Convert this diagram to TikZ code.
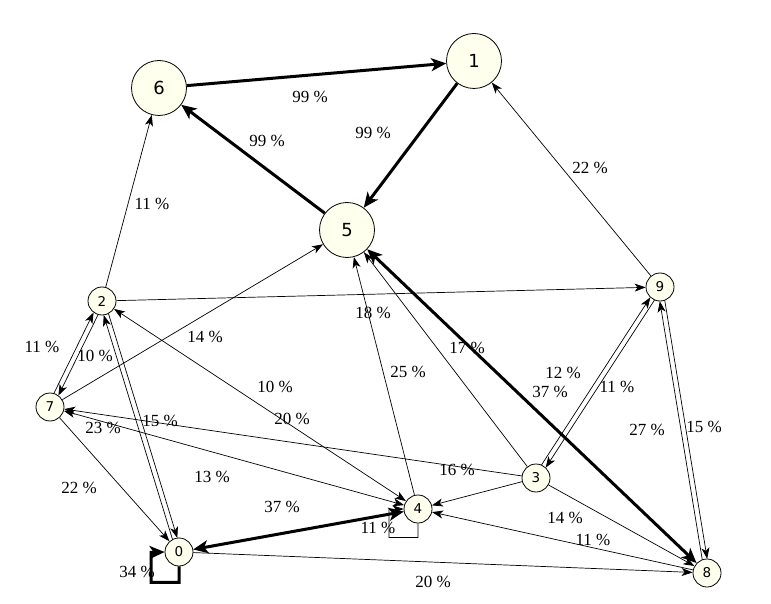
\documentclass[tikz,border=0pt]{standalone}
\usepackage{fontspec}
\setmainfont{Liberation Serif}
\newfontfamily\nodefont{DejaVu Sans}
\usetikzlibrary{arrows.meta,calc}
\definecolor{nodefill}{RGB}{255,255,238}
\newcommand\pairedge[2]{\draw[ln] ($(#1)!14pt!(#2)!2.5pt!90:(#2)$) -- ($(#2)!14pt!(#1)!2.5pt!-90:(#1)$);}
\begin{document}
\begin{tikzpicture}[x=1pt,y=-1pt,
  vnode/.style={circle,draw=black,line width=0.8pt,fill=nodefill,inner sep=0pt,minimum size=28pt,font=\nodefont\fontsize{13.5}{14}\selectfont},
  bignode/.style={vnode,minimum size=55pt,font=\nodefont\fontsize{18}{20}\selectfont},
  ln/.style={line width=0.7pt,-{Stealth[length=11pt,width=8pt,inset=3pt]}},
  lnb/.style={line width=0.7pt,{Stealth[length=11pt,width=8pt,inset=3pt]}-{Stealth[length=11pt,width=8pt,inset=3pt]}},
  hv/.style={line width=3pt,-{Stealth[length=15pt,width=13pt,inset=4pt]}},
  hvb/.style={line width=3pt,{Stealth[length=15pt,width=13pt,inset=4pt]}-{Stealth[length=15pt,width=13pt,inset=4pt]}},
  lbl/.style={font=\fontsize{17}{19}\selectfont,inner sep=0pt}
]
\useasboundingbox (0,0) rectangle (771,604);
\fill[white] (0,0) rectangle (771,604);
% nodes
\node[bignode] (n6) at (159,88) {6};
\node[bignode] (n1) at (474,61) {1};
\node[bignode] (n5) at (347,230) {5};
\node[vnode] (n2) at (102,301) {2};
\node[vnode] (n9) at (660,287) {9};
\node[vnode] (n7) at (50,407) {7};
\node[vnode] (n3) at (536,478) {3};
\node[vnode] (n4) at (418,509) {4};
\node[vnode] (n0) at (179,552) {0};
\node[vnode] (n8) at (707,573) {8};
% thick edges
\draw[hv] (n6) -- (n1);
\draw[hv] (n1) -- (n5);
\draw[hv] (n5) -- (n6);
\draw[hvb] (n5) -- (n8);
\draw[hvb] (n0) -- (n4);
\draw[hv] (n0.south) -- ++(0,16) -| ++(-28,-30) -- (n0.west);
% thin edges
\draw[ln] (n2) -- (n6);
\draw[ln] (n9) -- (n1);
\draw[ln] (n2) -- (n9);
\draw[ln] (n7) -- (n5);
\draw[ln] (n3) -- (n5);
\draw[ln] (n4) -- (n5);
\draw[lnb] (n2) -- (n4);
\draw[lnb] (n7) -- (n4);
\draw[ln] (n3) -- (n7);
\draw[ln] (n7) -- (n0);
\draw[ln] (n3) -- (n4);
\draw[ln] (n3) -- (n8);
\draw[ln] (n8) -- (n4);
\draw[ln] (n0) -- (n8);
\draw[ln] (n4.south) -- ++(0,14) -| ++(-29,-28) -- (n4.west);
% paired edges
\pairedge{n7}{n2}
\pairedge{n2}{n7}
\pairedge{n0}{n2}
\pairedge{n2}{n0}
\pairedge{n3}{n9}
\pairedge{n9}{n3}
\pairedge{n8}{n9}
\pairedge{n9}{n8}
% labels
\node[lbl] (a1) at (310,97) {99 \%};
\node[lbl] (a2) at (373,133) {99 \%};
\node[lbl] (a3) at (267,141) {99 \%};
\node[lbl] (a4) at (152,204) {11 \%};
\node[lbl] (a5) at (590,168) {22 \%};
\node[lbl] (a6) at (373,313) {18 \%};
\node[lbl] (a7) at (205,337) {14 \%};
\node[lbl] (a8) at (467,348) {17 \%};
\node[lbl] (a9) at (408,372) {25 \%};
\node[lbl] (a10) at (563,373) {12 \%};
\node[lbl] (a11) at (550,392) {37 \%};
\node[lbl] (a12) at (617,387) {11 \%};
\node[lbl] (a13) at (42,347) {11 \%};
\node[lbl] (a14) at (95,356) {10 \%};
\node[lbl] (a15) at (275,387) {10 \%};
\node[lbl] (a16) at (292,419) {20 \%};
\node[lbl] (a17) at (160,421) {15 \%};
\node[lbl] (a18) at (103,428) {23 \%};
\node[lbl] (a19) at (457,470) {16 \%};
\node[lbl] (a20) at (212,477) {13 \%};
\node[lbl] (a21) at (647,430) {27 \%};
\node[lbl] (a22) at (704,427) {15 \%};
\node[lbl] (a23) at (79,488) {22 \%};
\node[lbl] (a24) at (282,507) {37 \%};
\node[lbl] (a25) at (378,528) {11 \%};
\node[lbl] (a26) at (137,572) {34 \%};
\node[lbl] (a27) at (565,518) {14 \%};
\node[lbl] (a28) at (593,540) {11 \%};
\node[lbl] (a29) at (433,582) {20 \%};
\end{tikzpicture}
\end{document}
